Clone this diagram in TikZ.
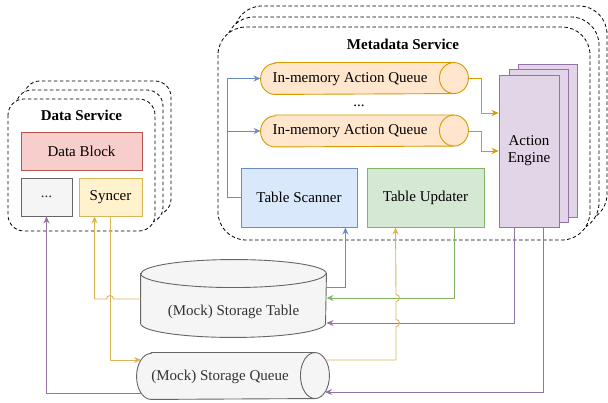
\documentclass[tikz,border=0pt]{standalone}
\usepackage{fontspec}
\setmainfont{Liberation Serif}
\usetikzlibrary{arrows.meta,calc}
\definecolor{blockfill}{HTML}{F8CECC}
\definecolor{blockline}{HTML}{B85450}
\definecolor{grayfill}{HTML}{F5F5F5}
\definecolor{grayline}{HTML}{666666}
\definecolor{syncfill}{HTML}{FFF2CC}
\definecolor{syncline}{HTML}{D6B656}
\definecolor{queuefill}{HTML}{FFE6CC}
\definecolor{queueline}{HTML}{D79B00}
\definecolor{scanfill}{HTML}{DAE8FC}
\definecolor{scanline}{HTML}{6C8EBF}
\definecolor{updfill}{HTML}{D5E8D4}
\definecolor{updline}{HTML}{82B366}
\definecolor{enginefill}{HTML}{E1D5E7}
\definecolor{engineline}{HTML}{9673A6}
\definecolor{mocktext}{HTML}{333333}

% cylinder lying down: node, x radius, y radius, style
\newcommand{\hcylinder}[4]{%
  \draw[#4] ($(#1.north west)+(#2,0)$) -- ($(#1.north east)+(-#2,0)$)
    arc[start angle=-90, end angle=90, x radius=#2, y radius=#3]
    -- ($(#1.south west)+(#2,0)$)
    arc[start angle=90, end angle=270, x radius=#2, y radius=#3] -- cycle;
  \draw[#4, fill=none] ($(#1.north east)+(-#2,0)$)
    arc[start angle=-90, end angle=-270, x radius=#2, y radius=#3];}
% cylinder standing up: node, x radius, y radius, style
\newcommand{\vcylinder}[4]{%
  \draw[#4] ($(#1.north west)+(0,#3)$) -- ($(#1.south west)+(0,-#3)$)
    arc[start angle=180, end angle=0, x radius=#2, y radius=#3]
    -- ($(#1.north east)+(0,#3)$)
    arc[start angle=0, end angle=-180, x radius=#2, y radius=#3] -- cycle;
  \draw[#4, fill=none] ($(#1.north west)+(0,#3)$)
    arc[start angle=180, end angle=0, x radius=#2, y radius=#3];}

\tikzset{
  base/.style={line width=0.9pt, inner sep=0pt, align=center, font=\fontsize{15}{17}\selectfont},
  box/.style={base, draw=#1line, fill=#1fill},
  txt/.style={base},
  group/.style={draw, fill=white, line width=0.8pt, dash pattern=on 3.5pt off 2.5pt},
  link/.style={line width=0.9pt, draw=#1, -{Stealth[length=7pt,width=6pt]}},
}

\begin{document}
\begin{tikzpicture}[x=1pt,y=-1pt]
  \useasboundingbox (0,0) rectangle (608,403);

  % data service stack
  \draw[group, rounded corners=16pt] (24,81) rectangle (171,215);
  \draw[group, rounded corners=16pt] (16,90) rectangle (163,223);
  \draw[group, rounded corners=16pt] (8,99) rectangle (155,231);
  \node[txt, font=\fontsize{15}{17}\selectfont\bfseries] (dstitle) at (81.5,115) {Data Service};
  \node[box=block, minimum width=121pt, minimum height=38pt] (block) at (81.5,151) {Data Block};
  \node[box=gray, text=mocktext, minimum width=51pt, minimum height=38pt] (dots) at (46.5,197) {...};
  \node[box=sync, minimum width=63pt, minimum height=38pt] (sync) at (110.5,197) {Syncer};

  % metadata service stack
  \draw[group, rounded corners=28pt] (234,6) rectangle (607,222);
  \draw[group, rounded corners=28pt] (226,17) rectangle (599,231);
  \draw[group, rounded corners=28pt] (218,27) rectangle (590,240);
  \node[txt, font=\fontsize{15}{17}\selectfont\bfseries] (mstitle) at (403,44) {Metadata Service};

  \node[base, minimum width=207pt, minimum height=31pt] (q1) at (364.5,78.5) {};
  \hcylinder{q1}{14.5}{15.5}{line width=0.9pt, draw=queueline, fill=queuefill}
  \node[txt] (q1txt) at (350,79) {In-memory Action Queue};
  \node[txt] (qdots) at (359,106) {...};
  \node[base, minimum width=207pt, minimum height=31pt] (q2) at (364.5,131) {};
  \hcylinder{q2}{14.5}{15.5}{line width=0.9pt, draw=queueline, fill=queuefill}
  \node[txt] (q2txt) at (350,131) {In-memory Action Queue};

  \node[box=scan, minimum width=116pt, minimum height=59pt] (scan) at (299,197.5) {Table Scanner};
  \node[box=upd, minimum width=117pt, minimum height=59pt] (upd) at (425.5,197.5) {Table Updater};

  \node[box=engine, minimum width=59pt, minimum height=153pt] (ae3) at (547.5,140.5) {};
  \node[box=engine, minimum width=59pt, minimum height=153pt] (ae2) at (538.5,145.5) {};
  \node[box=engine, minimum width=60pt, minimum height=152pt] (ae1) at (529,151) {Action\\Engine};

  % storage
  \node[base, minimum width=185pt, minimum height=77pt] (tab) at (233.5,298.5) {};
  \vcylinder{tab}{92.5}{14}{line width=0.9pt, draw=grayline, fill=grayfill}
  \node[txt, text=mocktext] (tabtxt) at (233.5,312) {(Mock) Storage Table};
  \node[base, minimum width=192pt, minimum height=46pt] (sq) at (233,376) {};
  \hcylinder{sq}{14.5}{23}{line width=0.9pt, draw=grayline, fill=grayfill}
  \node[txt, text=mocktext] (sqtxt) at (220,377) {(Mock) Storage Queue};

  \coordinate (sqw1) at (141,360);
  \coordinate (sqw2) at (141,393);
  \coordinate (sqe1) at (325,360);
  \coordinate (sqe2) at (325,392);

  % connectors
  \draw[link=scanline] (scan.west) -- ++(-13,0) |- (q1.west);
  \draw[link=scanline] (scan.west) -- ++(-13,0) |- (q2.west);
  \draw[link=queueline] (q1.east) -- ++(13,0) |- (ae1.west |- 0,113);
  \draw[link=queueline] (q2.east) -- ++(13,0) |- (ae1.west |- 0,151);

  \draw[link=scanline] (tab.east |- 0,287) -| ($(scan.south east)+(-12,0)$);
  \draw[link=updline] ($(upd.south east)+(-30,0)$) |- (tab.east |- 0,298);
  \draw[link=engineline] ($(ae1.south)+(-15,0)$) |- (tab.east |- 0,323);
  \draw[link=engineline] ($(ae1.south)+(14,0)$) |- (sqe2);
  \draw[link=syncline] (sqe1) -- ++(71,0) -- ++(0,-33.5)
    arc[start angle=90, end angle=-90, radius=3.5] -- ++(0,-18)
    arc[start angle=90, end angle=-90, radius=3.5] -- ($(upd.south west)+(29,0)$);

  \draw[link=syncline] (tab.west |- 0,299) -- ++(-27,0)
    arc[start angle=0, end angle=-180, radius=3.5] -| ($(sync.south west)+(16,0)$);
  \draw[link=syncline] (sync.south) |- (sqw1);
  \draw[link=engineline] (sqw2) -| (dots.south);
\end{tikzpicture}
\end{document}
